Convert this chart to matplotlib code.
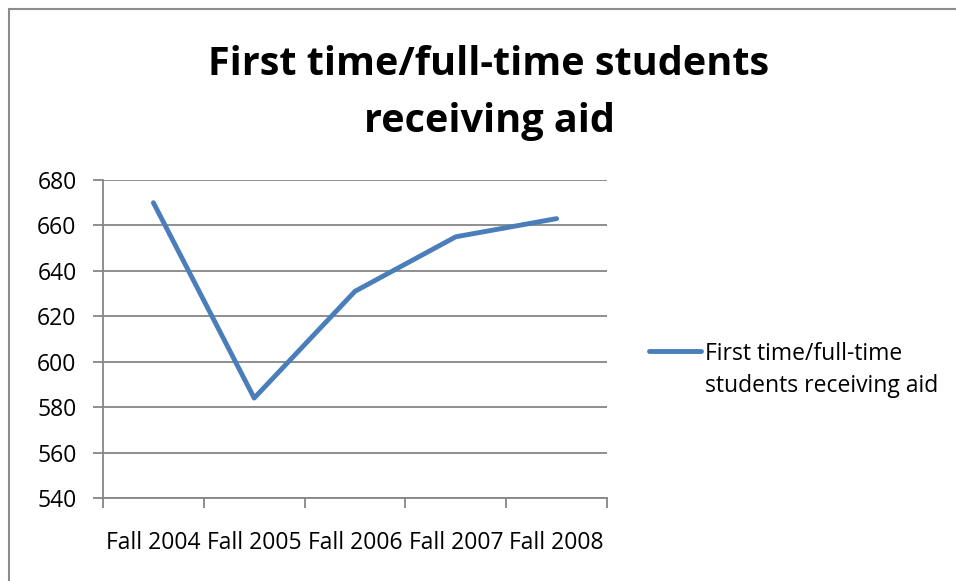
import matplotlib.pyplot as plt
from matplotlib.patches import Rectangle
from matplotlib.lines import Line2D

terms = ["Fall 2004", "Fall 2005", "Fall 2006", "Fall 2007", "Fall 2008"]
students_aid = [670, 584, 631, 655, 663]
series_name = "First time/full-time\nstudents receiving aid"

plt.rcParams['font.family'] = ['Open Sans', 'DejaVu Sans']

fig = plt.figure(figsize=(9.56, 5.81), dpi=100)
ax = fig.add_axes([103 / 956, 83 / 581, 504 / 956, 318 / 581])

# chart frame (only top/left visible in the crop)
fig.patches.append(Rectangle((9 / 956, -0.1), 1.2, (581 - 9) / 581 + 0.1,
                             transform=fig.transFigure, fill=False,
                             edgecolor='#8c8c8c', linewidth=1.5))

grey = '#868686'
blue = '#4a7ebb'
x = range(len(terms))
ax.plot(x, students_aid, color=blue, linewidth=3.5, solid_capstyle='round')

ax.set_xlim(-0.5, len(terms) - 0.5)
ax.set_ylim(540, 680)
ax.set_yticks(range(540, 681, 20))
ax.yaxis.grid(True, color=grey, linewidth=1.3)
ax.set_axisbelow(True)

ax.set_xticks([i - 0.5 for i in range(len(terms) + 1)], minor=False)
ax.set_xticklabels([])
ax.set_xticks(list(x), minor=True)
ax.set_xticklabels(terms, minor=True, fontsize=16.5)
ax.tick_params(axis='x', which='major', length=7, width=1.3, color=grey, direction='out')
ax.tick_params(axis='x', which='minor', length=0, pad=23.5)
ax.tick_params(axis='y', length=7, width=1.3, color=grey, labelsize=16.5, pad=12)

for side in ['top', 'right']:
    ax.spines[side].set_visible(False)
for side in ['left', 'bottom']:
    ax.spines[side].set_color(grey)
    ax.spines[side].set_linewidth(1.3)

fig.text(489 / 956, 1 - 93 / 581, "First time/full-time students\nreceiving aid",
         ha='center', va='center', fontsize=28.5, fontweight='bold', linespacing=1.58)

# legend: handle sits beside the first line of the label
fig.add_artist(Line2D([649 / 956, 701 / 956], [1 - 351 / 581, 1 - 351 / 581],
                      transform=fig.transFigure, color=blue, linewidth=3.5,
                      solid_capstyle='round'))
fig.text(705 / 956, 1 - 342 / 581, series_name, ha='left', va='top',
         fontsize=16.5, linespacing=1.45)

plt.savefig("out.png", dpi=100)
